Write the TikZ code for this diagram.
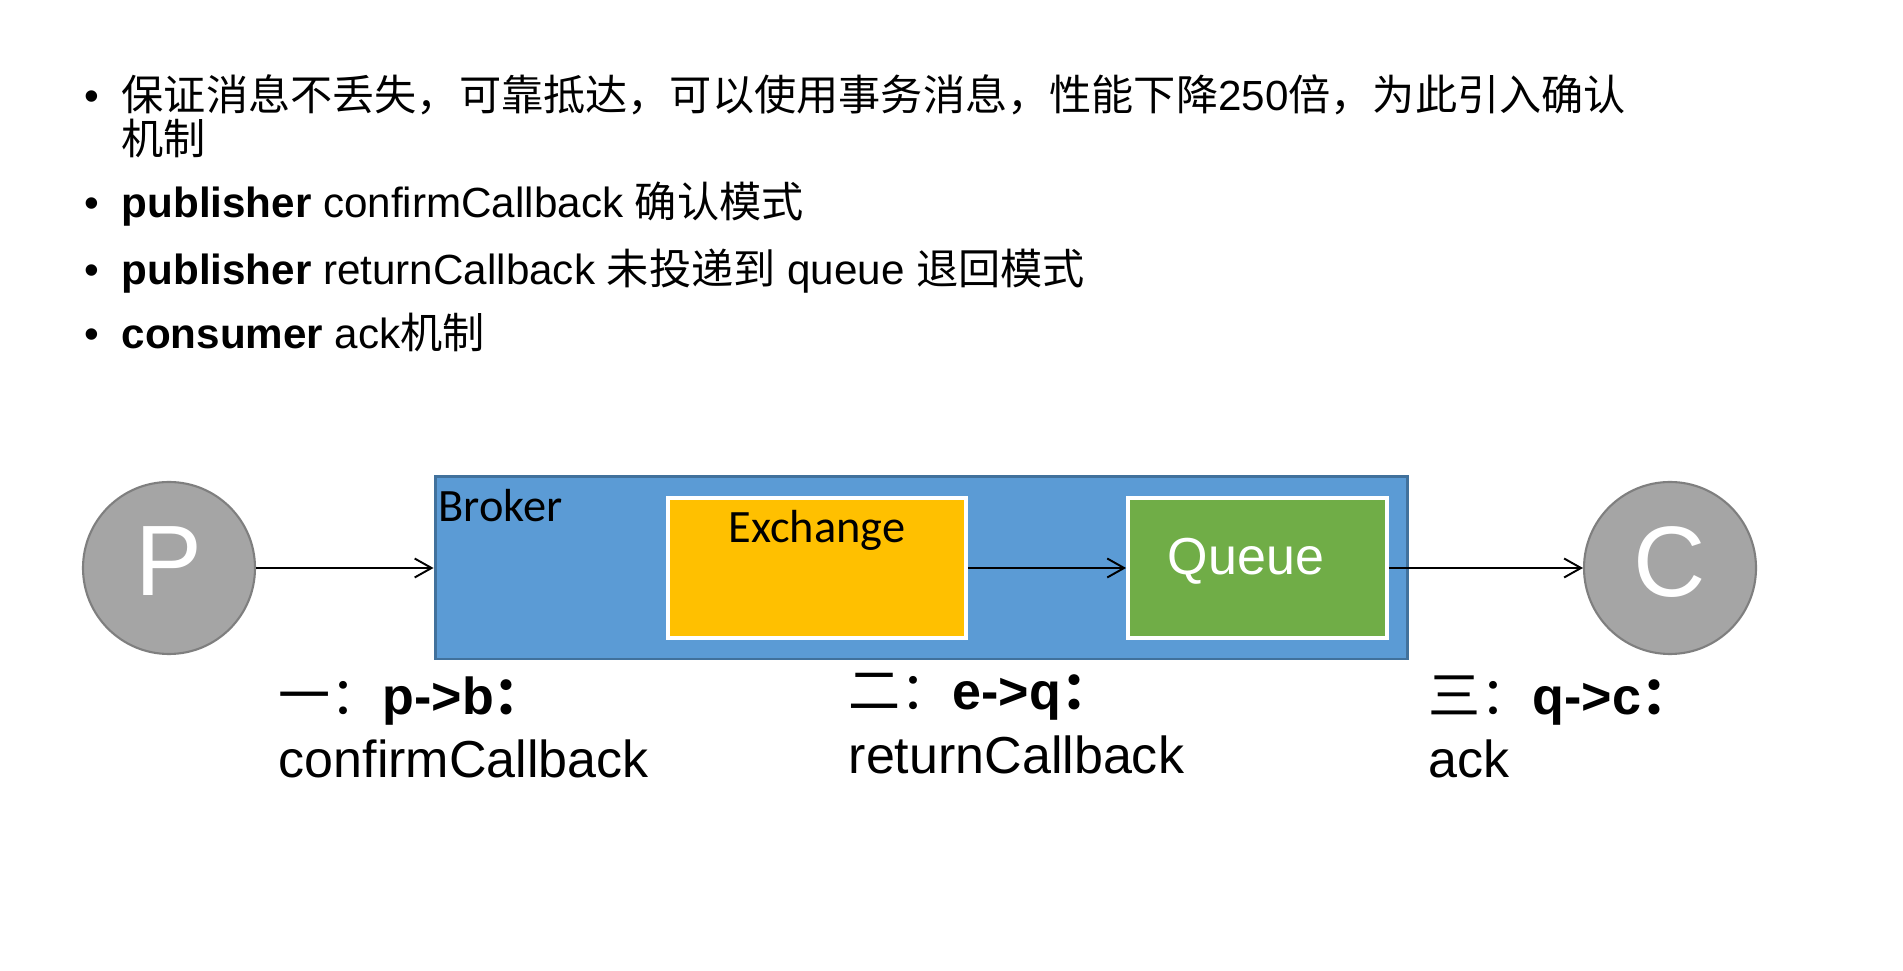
\documentclass[tikz,border=0pt]{standalone}
\usepackage{fontspec}
\setmainfont{Liberation Sans}
\newfontfamily\cjk{Noto Sans CJK SC}
\newfontfamily\calib{Carlito}
\usetikzlibrary{arrows.meta}
\definecolor{circfill}{HTML}{A5A5A5}
\definecolor{circedge}{HTML}{7F7F7F}
\definecolor{brokerfill}{HTML}{5B9BD5}
\definecolor{brokeredge}{HTML}{41719C}
\definecolor{exchfill}{HTML}{FFC000}
\definecolor{queuefill}{HTML}{70AD47}

\begin{document}
\begin{tikzpicture}[
		party/.style = {circle, draw = circedge, fill = circfill, line width = 0.6pt, minimum size = 1.72cm, inner sep = 0pt, text = white, font = \fontsize{28.5}{30}\selectfont, text depth = 3.9pt},
		box/.style = {draw = white, line width = 1.1pt, minimum height = 1.40cm, inner sep = 0pt},
		flow/.style = {-{Straight Barb[length=4.8pt,width=5.4pt]}, line width = 0.55pt},
		txt/.style = {anchor = base west, inner sep = 0pt, font = \fontsize{12}{14}\selectfont},
		steptxt/.style = {anchor = base west, inner sep = 0pt, font = \fontsize{14.8}{17}\selectfont}
	]
			\useasboundingbox[fill = white] (0,0) rectangle (19.03,9.70);
			% bullet list
			\foreach \y in {8.59,7.52,6.85,6.21}
			\node[txt] at (0.84,\y) {•};
			\node[txt] (l1) at (1.21,8.59) {{\cjk 保证消息不丢失，可靠抵达，可以使用事务消息，性能下降}250{\cjk 倍，为此引入确认}};
			\node[txt] (l1b) at (1.21,8.15) {{\cjk 机制}};
			\node[txt] (l2) at (1.21,7.52) {\textbf{publisher} confirmCallback {\cjk 确认模式}};
			\node[txt] (l3) at (1.21,6.85) {\textbf{publisher} returnCallback {\cjk 未投递到} queue {\cjk 退回模式}};
			\node[txt] (l4) at (1.21,6.21) {\textbf{consumer} ack{\cjk 机制}};
			% broker with exchange and queue
			\node[draw = brokeredge, fill = brokerfill, line width = 0.85pt, minimum width = 9.72cm, minimum height = 1.82cm, inner sep = 0pt] (broker) at (9.21,4.02) {};
			\node[box, fill = exchfill, minimum width = 2.98cm] (exch) at (8.17,4.02) {};
			\node[box, fill = queuefill, minimum width = 2.59cm] (queue) at (12.575,4.02) {};
			\node[anchor = base west, inner sep = 0pt, font = \calib\fontsize{13.2}{15}\selectfont] (brokerlbl) at (4.38,4.48) {Broker};
			\node[anchor = base, inner sep = 0pt, font = \calib\fontsize{13.2}{15}\selectfont] (exchlbl) at (8.17,4.27) {Exchange};
			\node[anchor = base, inner sep = 0pt, text = white, font = \fontsize{14.8}{17}\selectfont] (queuelbl) at (12.46,3.95) {Queue};
			% producer and consumer
			\node[party] (p) at (1.69,4.02) {P};
			\node[party] (c) at (16.70,4.02) {C};
			\draw[flow] (p) -- (broker);
			\draw[flow] (exch) -- (queue);
			\draw[flow] (queue) -- (c);
			% steps
			\node[steptxt] (s1) at (2.78,2.55) {{\cjk 一：}\textbf{p->b{\cjk ：}}};
			\node[steptxt] (s1cb) at (2.78,1.92) {confirmCallback};
			\node[steptxt] (s2) at (8.48,2.60) {{\cjk 二：}\textbf{e->q{\cjk ：}}};
			\node[steptxt] (s2cb) at (8.48,1.97) {returnCallback};
			\node[steptxt] (s3) at (14.28,2.55) {{\cjk 三：}\textbf{q->c{\cjk ：}}};
			\node[steptxt] (s3cb) at (14.28,1.92) {ack};
		\end{tikzpicture}
\end{document}
